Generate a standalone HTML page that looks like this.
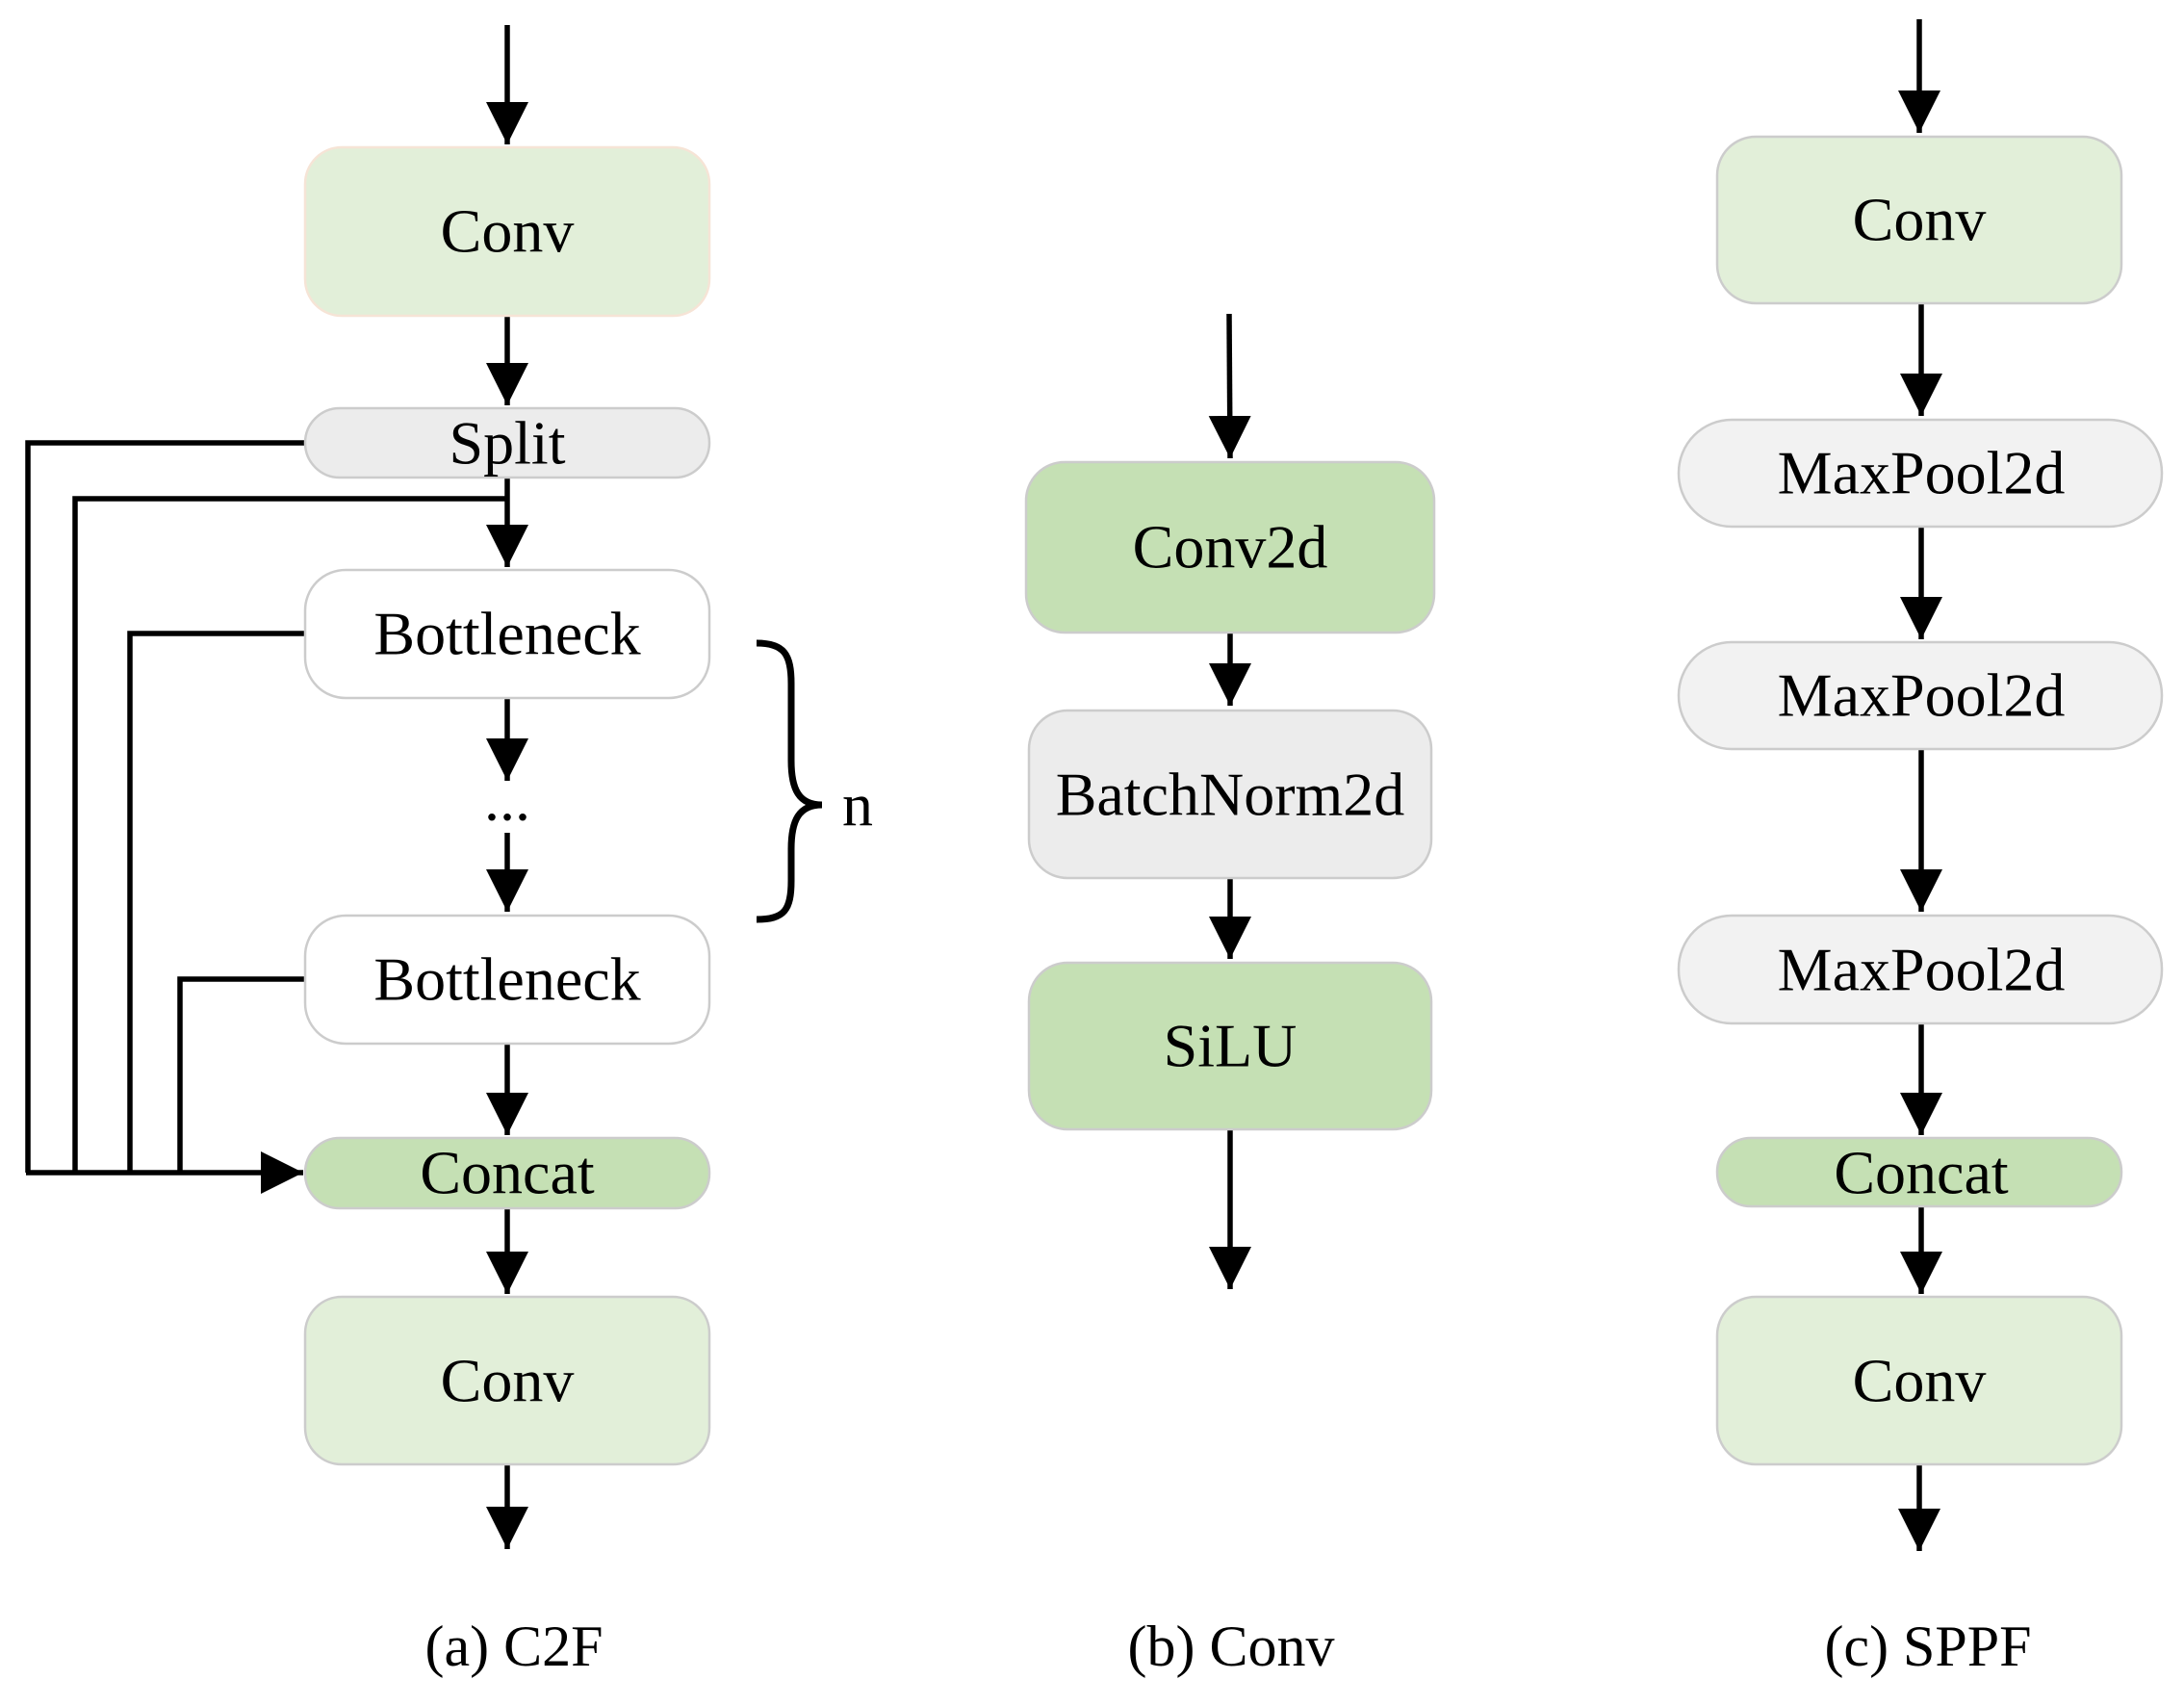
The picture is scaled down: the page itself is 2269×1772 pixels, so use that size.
<!DOCTYPE html>
<html><head><meta charset="utf-8"><style>html,body{margin:0;padding:0;background:#fff}svg{display:block}text{font-family:"Liberation Serif",serif;font-size:64px;fill:#000;text-anchor:middle;dominant-baseline:central}</style></head>
<body>
<svg width="2269" height="1772" viewBox="0 0 2269 1772" xmlns="http://www.w3.org/2000/svg">
<defs>
<marker id="ah" markerWidth="8" markerHeight="8" refX="8" refY="4" orient="auto" markerUnits="strokeWidth"><path d="M0,0 L8,4 L0,8 z" fill="#000"/></marker>
</defs>
<g stroke="#000" stroke-width="5.5" fill="none">
<line x1="527" y1="26" x2="527" y2="150" marker-end="url(#ah)"/>
<line x1="527" y1="328" x2="527" y2="421" marker-end="url(#ah)"/>
<line x1="527" y1="496" x2="527" y2="589" marker-end="url(#ah)"/>
<line x1="527" y1="725" x2="527" y2="811" marker-end="url(#ah)"/>
<line x1="527" y1="865" x2="527" y2="947" marker-end="url(#ah)"/>
<line x1="527" y1="1084" x2="527" y2="1179" marker-end="url(#ah)"/>
<line x1="527" y1="1255" x2="527" y2="1344" marker-end="url(#ah)"/>
<line x1="527" y1="1521" x2="527" y2="1609" marker-end="url(#ah)"/>
<polyline points="317,460 29,460 29,1218"/>
<polyline points="527,518 78,518 78,1218"/>
<polyline points="317,658 135,658 135,1218"/>
<polyline points="317,1017 187,1017 187,1218"/>
<line x1="27" y1="1218" x2="315" y2="1218" marker-end="url(#ah)"/>
<path d="M786,668 C815,668 822,680 822,710 L822,790 C822,820 830,836 854,836 C830,836 822,852 822,882 L822,915 C822,945 815,955 786,955" stroke-width="7"/>
<line x1="1277" y1="326" x2="1278" y2="476" marker-end="url(#ah)"/>
<line x1="1278" y1="657" x2="1278" y2="733" marker-end="url(#ah)"/>
<line x1="1278" y1="912" x2="1278" y2="996" marker-end="url(#ah)"/>
<line x1="1278" y1="1173" x2="1278" y2="1339" marker-end="url(#ah)"/>
<line x1="1994" y1="20" x2="1994" y2="138" marker-end="url(#ah)"/>
<line x1="1996" y1="315" x2="1996" y2="432" marker-end="url(#ah)"/>
<line x1="1996" y1="547" x2="1996" y2="664" marker-end="url(#ah)"/>
<line x1="1996" y1="778" x2="1996" y2="947" marker-end="url(#ah)"/>
<line x1="1996" y1="1063" x2="1996" y2="1179" marker-end="url(#ah)"/>
<line x1="1996" y1="1253" x2="1996" y2="1344" marker-end="url(#ah)"/>
<line x1="1994" y1="1521" x2="1994" y2="1611" marker-end="url(#ah)"/>
</g>
<g stroke-width="2.5">
<rect x="317" y="153" width="420" height="175" rx="38" fill="#e2efd9" stroke="#f6e4d6"/>
<rect x="317" y="424" width="420" height="72" rx="36" fill="#ececec" stroke="#cccccc"/>
<rect x="317" y="592" width="420" height="133" rx="42" fill="#ffffff" stroke="#cccccc"/>
<rect x="317" y="951" width="420" height="133" rx="42" fill="#ffffff" stroke="#cccccc"/>
<rect x="317" y="1182" width="420" height="73" rx="36" fill="#c5e0b4" stroke="#cccccc"/>
<rect x="317" y="1347" width="420" height="174" rx="38" fill="#e2efd9" stroke="#cccccc"/>
<rect x="1066" y="480" width="424" height="177" rx="40" fill="#c5e0b4" stroke="#cccccc"/>
<rect x="1069" y="738" width="418" height="174" rx="40" fill="#ececec" stroke="#cccccc"/>
<rect x="1069" y="1000" width="418" height="173" rx="40" fill="#c5e0b4" stroke="#cccccc"/>
<rect x="1784" y="142" width="420" height="173" rx="40" fill="#e2efd9" stroke="#cccccc"/>
<rect x="1744" y="436" width="502" height="111" rx="55" fill="#f2f2f2" stroke="#cccccc"/>
<rect x="1744" y="667" width="502" height="111" rx="55" fill="#f2f2f2" stroke="#cccccc"/>
<rect x="1744" y="951" width="502" height="112" rx="55" fill="#f2f2f2" stroke="#cccccc"/>
<rect x="1784" y="1182" width="420" height="71" rx="35" fill="#c5e0b4" stroke="#cccccc"/>
<rect x="1784" y="1347" width="420" height="174" rx="40" fill="#e2efd9" stroke="#cccccc"/>
</g>
<text x="527" y="240">Conv</text>
<text x="527" y="460">Split</text>
<text x="527" y="658">Bottleneck</text>
<text x="527" y="830">...</text>
<text x="527" y="1017">Bottleneck</text>
<text x="527" y="1218">Concat</text>
<text x="527" y="1434">Conv</text>
<text x="891" y="836">n</text>
<text x="1278" y="568">Conv2d</text>
<text x="1278" y="825">BatchNorm2d</text>
<text x="1278" y="1086">SiLU</text>
<text x="1994" y="228">Conv</text>
<text x="1996" y="491">MaxPool2d</text>
<text x="1996" y="722">MaxPool2d</text>
<text x="1996" y="1007">MaxPool2d</text>
<text x="1996" y="1218">Concat</text>
<text x="1994" y="1434">Conv</text>
<text x="534" y="1710" style="font-size:60px">(a) C2F</text>
<text x="1279" y="1710" style="font-size:60px">(b) Conv</text>
<text x="2003" y="1710" style="font-size:60px">(c) SPPF</text>
</svg>
</body></html>
